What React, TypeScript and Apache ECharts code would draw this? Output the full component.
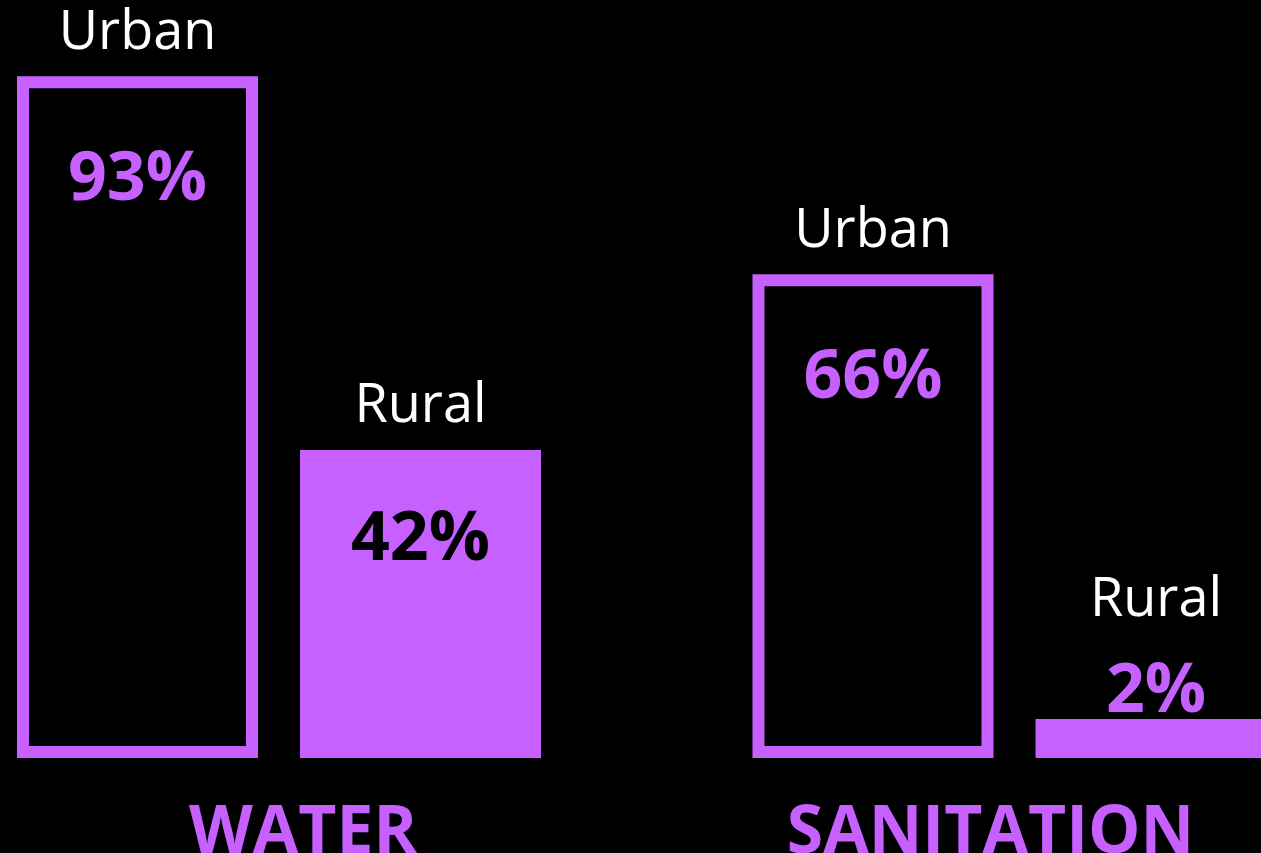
import React, { useEffect, useRef } from "react";
import * as echarts from "echarts";

const categories = ["WATER", "SANITATION"];
const urbanValues = [93, 66];
const ruralValues = [42, 2];
const seriesNames = ["Urban", "Rural"];

const PURPLE = "#c660ff";
const FONT = "'Open Sans', 'Noto Sans', sans-serif";

// label layout (style only): value-line height, vertical offset, value colour
const urbanLabelLayout = [
  { b: 230, dy: -78, color: PURPLE },
  { b: 230, dy: -78, color: PURPLE },
];
const ruralLabelLayout = [
  { b: 204, dy: -79, color: "#000" },
  { b: 120, dy: -154, color: PURPLE },
];

function makeLabel(l: { b: number; dy: number; color: string }) {
  return {
    show: true,
    position: "insideTop",
    distance: 0,
    offset: [0, l.dy],
    formatter: (p: any) => `{n|${p.seriesName}}\n{v|${p.value}%}`,
    rich: {
      n: { fontFamily: FONT, fontSize: 54, color: "#fff", lineHeight: 60 },
      v: {
        fontFamily: FONT,
        fontSize: 68,
        fontWeight: "bold",
        color: l.color,
        lineHeight: l.b,
      },
    },
  };
}

export default function App() {
  const ref = useRef<HTMLDivElement>(null);
  useEffect(() => {
    document.body.style.margin = "0";
    document.body.style.background = "#000";
    const chart = echarts.init(ref.current!, null, { renderer: "svg" });
    chart.setOption({
      animation: false,
      backgroundColor: "#000",
      grid: {
        left: -88.75,
        width: 1471,
        top: 24.9,
        bottom: 95,
        containLabel: false,
        outerBoundsMode: "none",
      },
      xAxis: {
        type: "category",
        data: categories,
        axisLine: { show: false },
        axisTick: { show: false },
        axisLabel: {
          margin: 36,
          formatter: (v: string) => (v === "WATER" ? `{w|${v}}` : `{s|${v}}`),
          rich: {
            w: {
              fontFamily: FONT,
              fontSize: 66,
              fontWeight: "bold",
              color: PURPLE,
              lineHeight: 66,
              padding: [0, 0, 0, 48],
            },
            s: {
              fontFamily: FONT,
              fontSize: 66,
              fontWeight: "bold",
              color: PURPLE,
              lineHeight: 66,
              padding: [0, 48, 0, 0],
            },
          },
        },
      },
      yAxis: {
        type: "value",
        min: 0,
        max: 100,
        show: false,
        splitLine: { show: false },
      },
      series: [
        {
          name: seriesNames[0],
          type: "bar",
          barWidth: 241,
          barGap: "17.43%",
          data: urbanValues.map((v, i) => ({
            value: v,
            label: makeLabel(urbanLabelLayout[i]),
          })),
          itemStyle: { color: "rgba(0,0,0,0)", borderColor: PURPLE, borderWidth: 12 },
        },
        {
          name: seriesNames[1],
          type: "bar",
          barWidth: 241,
          barGap: "17.43%",
          barMinHeight: 39,
          data: ruralValues.map((v, i) => ({
            value: v,
            label: makeLabel(ruralLabelLayout[i]),
          })),
          itemStyle: { color: PURPLE },
        },
      ],
    });
    return () => chart.dispose();
  }, []);
  return <div ref={ref} style={{ width: 1261, height: 853 }} />;
}
